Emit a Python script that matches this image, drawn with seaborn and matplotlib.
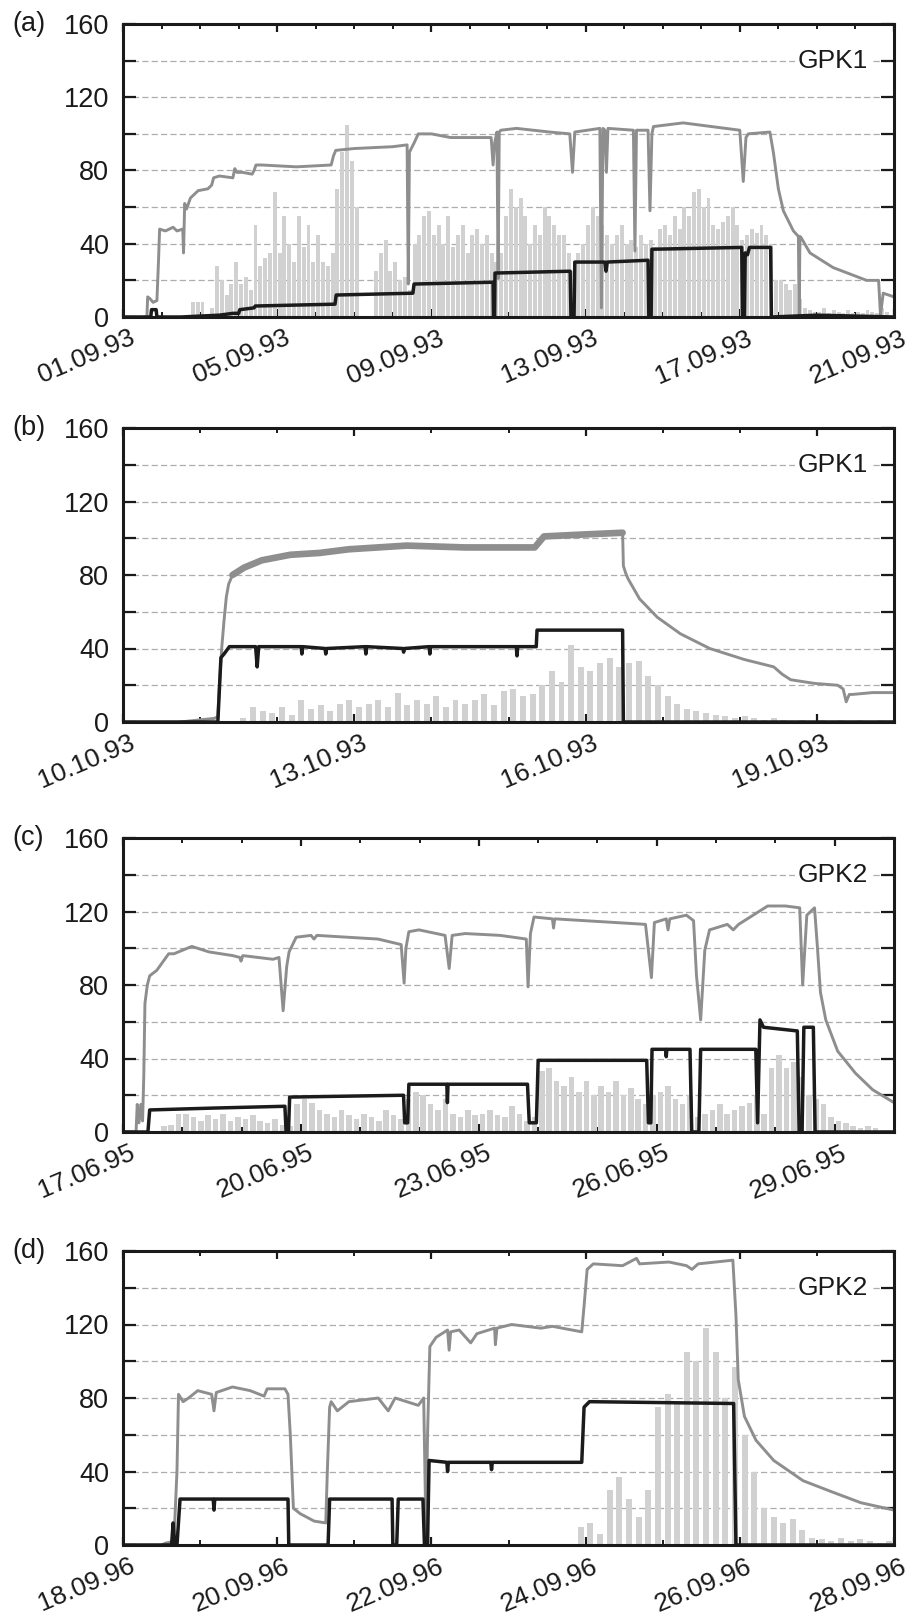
import numpy as np
import pandas as pd
import matplotlib
matplotlib.use("Agg")
import matplotlib.pyplot as plt
import matplotlib.transforms as mtransforms
from matplotlib.ticker import FixedLocator, MultipleLocator
import seaborn as sns

# ---------------- data (time in days from the left edge of each panel) ----------------
# Panel (a) GPK1, 01.09.93 - 21.09.93
a_ticks = [0, 4, 8, 12, 16, 20]
a_ticklabels = ['01.09.93', '05.09.93', '09.09.93', '13.09.93', '17.09.93', '21.09.93']
a_p_t = [0.55, 0.62, 0.64, 0.70, 0.78, 0.88, 0.92, 0.95, 1.10, 1.30, 1.40, 1.55, 1.57, 1.60, 1.65, 1.75,
         1.95, 2.20, 2.30, 2.35, 2.50, 2.85, 2.90, 2.95, 3.10, 3.35, 3.40, 3.45, 3.60, 4.50, 5.40, 5.46,
         5.52, 6.00, 7.00, 7.37, 7.40, 7.43, 7.55, 7.66, 8.00, 8.50, 9.55, 9.60, 9.64, 9.70, 9.73, 9.76,
         9.80, 10.21, 11.07, 11.59, 11.66, 11.72, 12.37, 12.41, 12.45, 12.50, 12.54, 12.58, 13.24, 13.28,
         13.32, 13.62, 13.67, 13.72, 13.76, 14.53, 16.00, 16.09, 16.16, 16.22, 16.78, 16.87, 17.00, 17.13,
         17.39, 17.52, 17.54, 17.56, 17.60, 17.82, 18.42, 19.29, 19.60, 19.65, 19.72, 20.0]
a_p_v = [0, 0, 11, 10, 8, 9, 30, 48, 47, 49, 47, 48, 35, 62, 59, 65,
         69, 70, 72, 76, 77, 76, 81, 79, 79, 78, 80, 83, 83, 82, 83, 88,
         91, 92, 93, 94, 18, 90, 95, 100, 100, 98, 98, 83, 95, 101, 21, 101,
         102, 103, 101, 100, 79, 101, 103, 5, 103, 102, 79, 103, 102, 36,
         102, 102, 58, 100, 104, 106, 102, 74, 98, 100, 101, 90, 70, 58,
         47, 44, 0, 44, 43, 35, 27, 20, 20, 1, 13, 11]
a_q_t = [0.0, 0.72, 0.74, 0.86, 0.88, 1.50, 2.50, 2.85, 3.00, 3.03, 3.40, 3.43, 5.50, 5.53, 7.52, 7.55,
         9.60, 9.61, 9.64, 9.65, 11.60, 11.62, 11.70, 11.72, 12.50, 12.53, 12.56, 13.62, 13.64, 13.70,
         13.72, 16.05, 16.07, 16.12, 16.14, 16.20, 16.25, 16.80, 16.82, 18.00, 20.00]
a_q_v = [0, 0, 4, 4, 0, 0, 1, 2, 2, 4, 5, 6, 7, 12, 13, 18,
         19, 0, 0, 24, 25, 0, 0, 30, 30, 25, 30, 31, 0, 0,
         37, 38, 0, 0, 35, 34, 38, 38, 0, 1, 0]
a_bars = [0, 0, 0, 0, 0, 0, 0, 0,
          0, 0, 0, 0, 0, 0, 8, 8,
          8, 0, 5, 28, 20, 12, 18, 30,
          18, 22, 15, 50, 28, 32, 35, 68,
          35, 55, 40, 30, 55, 38, 50, 30,
          45, 30, 28, 35, 70, 90, 105, 85,
          60, 0, 0, 0, 25, 35, 42, 25,
          30, 20, 22, 15, 40, 45, 55, 58,
          45, 50, 40, 55, 38, 45, 50, 35,
          45, 48, 40, 45, 35, 30, 35, 55,
          70, 60, 65, 55, 40, 50, 45, 60,
          55, 50, 45, 45, 35, 25, 35, 40,
          50, 60, 55, 50, 45, 40, 45, 50,
          40, 42, 38, 45, 40, 42, 38, 48,
          50, 45, 55, 48, 60, 55, 68, 70,
          60, 65, 50, 48, 52, 55, 60, 50,
          42, 45, 48, 46, 50, 45, 40, 20,
          20, 18, 15, 18, 10, 5, 4, 3,
          3, 5, 2, 4, 3, 2, 4, 2,
          3, 2, 4, 3, 2, 5, 3, 1]

# Panel (b) GPK1, 10.10.93 - 20.10.93
b_ticks = [0, 3, 6, 9]
b_ticklabels = ['10.10.93', '13.10.93', '16.10.93', '19.10.93']
b_p_t = [0.74, 1.19, 1.23, 1.25, 1.28, 1.31, 1.34, 1.37, 1.42, 1.57, 1.80, 2.17, 2.55, 2.93, 3.68, 4.44,
         5.34, 5.38, 5.46, 5.95, 6.48, 6.49, 6.52, 6.55, 6.70, 6.93, 7.23, 7.61, 8.06, 8.44, 8.55, 8.66,
         8.97, 9.27, 9.34, 9.38, 9.42, 9.46, 9.72, 10.0]
b_p_v = [0, 2, 3, 20, 40, 55, 68, 75, 80, 84, 88, 91, 92, 94, 96, 95,
         95, 97, 101, 102, 103, 85, 81, 78, 67, 57, 48, 40, 34, 30, 26, 23,
         21, 20, 18, 11, 15, 15, 16, 16]
b_q_t = [0, 1.23, 1.27, 1.31, 1.38, 1.72, 1.74, 1.76, 2.31, 2.32, 2.33, 2.62, 2.63, 2.64, 3.14, 3.15,
         3.16, 3.63, 3.64, 3.65, 3.97, 3.98, 3.99, 5.10, 5.11, 5.12, 5.36, 5.37, 6.48, 6.49, 10.0]
b_q_v = [0, 0, 35, 37, 41, 41, 30, 41, 41, 37, 41, 40, 37, 40, 41, 37,
         41, 40, 38, 40, 41, 37, 41, 41, 36, 41, 41, 50, 50, 0, 0]
b_bars = [0, 0, 0, 0, 0, 0, 0, 0,
          0, 0, 0, 0, 2, 8, 6, 5,
          8, 4, 12, 7, 9, 6, 10, 12,
          8, 10, 12, 8, 16, 9, 12, 10,
          14, 8, 12, 10, 12, 15, 9, 17,
          18, 14, 15, 20, 28, 22, 42, 30,
          28, 32, 35, 30, 32, 33, 25, 20,
          14, 10, 7, 6, 5, 4, 3, 2,
          3, 2, 1, 2, 1, 0, 1, 0,
          1, 0, 1, 0, 1, 0, 1, 0]

# Panel (c) GPK2, 17.06.95 - 30.06.95
c_ticks = [0, 3, 6, 9, 12]
c_ticklabels = ['17.06.95', '20.06.95', '23.06.95', '26.06.95', '29.06.95']
c_p_t = [0.0, 0.22, 0.24, 0.27, 0.30, 0.33, 0.35, 0.37, 0.41, 0.45, 0.57, 0.77, 0.86, 1.16, 1.45, 1.85,
         1.97, 1.99, 2.02, 2.53, 2.63, 2.70, 2.76, 2.80, 2.92, 3.17, 3.22, 3.27, 4.30, 4.69, 4.74, 4.77,
         4.82, 4.99, 5.43, 5.50, 5.55, 5.77, 6.36, 6.80, 6.83, 6.87, 6.93, 7.24, 7.26, 7.28, 8.81, 8.91,
         8.96, 9.16, 9.19, 9.22, 9.50, 9.62, 9.67, 9.74, 9.81, 9.89, 10.19, 10.29, 10.38, 10.87, 11.17,
         11.41, 11.46, 11.53, 11.66, 11.71, 11.76, 11.85, 12.05, 12.35, 12.64, 13.0]
c_p_v = [0, 0, 15, 5, 15, 6, 30, 70, 80, 85, 88, 97, 97, 101, 98, 96,
         95, 93, 96, 94, 95, 66, 90, 98, 106, 107, 105, 107, 105, 102, 81, 100,
         109, 110, 107, 89, 107, 108, 107, 105, 79, 108, 117, 116, 111, 116, 113, 84,
         114, 116, 110, 116, 118, 115, 85, 61, 99, 110, 113, 110, 113, 123, 123,
         122, 80, 118, 122, 100, 76, 61, 44, 32, 23, 16]
c_q_t = [0, 0.42, 0.45, 1.5, 2.73, 2.75, 2.79, 2.81, 4.73, 4.75, 4.80, 4.82, 5.46, 5.47, 5.48, 6.82,
         6.85, 6.97, 7.00, 8.83, 8.86, 8.90, 8.92, 9.15, 9.16, 9.17, 9.56, 9.59, 9.71, 9.74, 10.67,
         10.70, 10.74, 10.80, 11.37, 11.40, 11.45, 11.48, 11.64, 11.67, 13.0]
c_q_v = [0, 0, 12, 13, 14, 0, 0, 19, 20, 5, 5, 26, 26, 16, 26, 26,
         5, 5, 39, 39, 5, 5, 45, 45, 41, 45, 45, 0, 0, 45, 45,
         5, 61, 57, 55, 0, 0, 57, 57, 0, 0]
c_bars = [0, 0, 0, 0, 0, 3, 4, 10,
          10, 8, 6, 9, 7, 10, 6, 8,
          7, 9, 6, 5, 7, 4, 3, 15,
          18, 16, 12, 10, 8, 12, 9, 7,
          10, 8, 6, 12, 9, 7, 18, 22,
          20, 15, 12, 18, 10, 8, 12, 9,
          10, 12, 9, 8, 14, 10, 6, 8,
          33, 35, 28, 25, 30, 22, 28, 20,
          25, 22, 28, 20, 24, 18, 15, 20,
          22, 25, 18, 15, 20, 8, 10, 12,
          15, 10, 12, 14, 16, 20, 10, 35,
          42, 35, 38, 30, 20, 18, 15, 8,
          6, 5, 3, 2, 3, 2, 0, 0]

# Panel (d) GPK2, 18.09.96 - 28.09.96
d_ticks = [0, 2, 4, 6, 8, 10]
d_ticklabels = ['18.09.96', '20.09.96', '22.09.96', '24.09.96', '26.09.96', '28.09.96']
d_p_t = [0.50, 0.55, 0.66, 0.70, 0.72, 0.78, 0.85, 0.97, 1.15, 1.18, 1.21, 1.42, 1.65, 1.83, 1.87, 2.10,
         2.14, 2.17, 2.21, 2.30, 2.48, 2.63, 2.65, 2.68, 2.70, 2.78, 2.93, 3.31, 3.44, 3.53, 3.83, 3.90,
         3.93, 3.95, 3.98, 4.06, 4.21, 4.23, 4.25, 4.36, 4.51, 4.59, 4.82, 4.83, 4.85, 5.04, 5.42, 5.57,
         5.95, 5.98, 6.02, 6.10, 6.48, 6.66, 6.70, 7.08, 7.31, 7.38, 7.46, 7.91, 7.95, 7.98, 8.06, 8.21,
         8.44, 8.82, 9.19, 9.57, 10.0]
d_p_v = [0, 1, 2, 40, 82, 78, 80, 84, 82, 73, 83, 86, 84, 81, 85, 85,
         82, 60, 20, 17, 13, 12, 40, 75, 78, 73, 78, 80, 73, 80, 76, 80,
         5, 60, 108, 113, 117, 106, 116, 117, 110, 115, 118, 109, 118, 120, 118, 119,
         116, 130, 150, 153, 152, 156, 153, 154, 152, 150, 153, 155, 125, 90, 70, 57,
         46, 35, 29, 23, 19]
d_q_t = [0, 0.63, 0.65, 0.67, 0.70, 0.74, 1.17, 1.18, 1.19, 2.14, 2.15, 2.66, 2.68, 3.49, 3.50, 3.55,
         3.57, 3.89, 3.91, 3.95, 3.97, 4.20, 4.21, 4.22, 4.77, 4.78, 4.79, 5.95, 5.98, 6.05, 7.92, 7.95, 10.0]
d_q_v = [0, 0, 12, 0, 0, 25, 25, 19, 25, 25, 0, 0, 25, 25, 0, 0,
         25, 25, 0, 0, 46, 45, 40, 45, 45, 41, 45, 45, 75, 78, 77, 0, 0]
d_bars = [0] * 40 + [0, 0, 0, 0, 0, 0, 0, 10,
                     12, 6, 30, 37, 25, 15, 30, 75,
                     82, 78, 105, 100, 118, 105, 80, 97,
                     60, 40, 20, 15, 12, 14, 8, 4,
                     3, 2, 4, 2, 3, 2, 1, 2]

panel_labels = ['(a)', '(b)', '(c)', '(d)']
well_labels = ['GPK1', 'GPK1', 'GPK2', 'GPK2']
panel_days = [20, 10, 13, 10]
y_major = [0, 40, 80, 120, 160]

# ---------------- style ----------------
sns.set_style("ticks")
plt.rcParams['font.family'] = ['Liberation Sans', 'DejaVu Sans']
plt.rcParams['font.size'] = 19.5
plt.rcParams['text.color'] = '#1a1a1a'
plt.rcParams['xtick.color'] = '#1a1a1a'
plt.rcParams['ytick.color'] = '#1a1a1a'

GRAY = '#8e8e8e'
BLACK = '#1b1b1b'
BARC = '#d1d1d1'
GRID = '#adadad'
BIN = 0.125

W, H = 911, 1618
fig = plt.figure(figsize=(W / 100, H / 100), dpi=100)

tops = [24, 428, 838, 1251]
bots = [317, 722, 1132, 1545]
left_px, right_px = 123, 894
label_rot = 23
label_dx = 11
bar_shrink = [0.82, 0.62, 0.75, 0.62]

panels = [
    (a_ticks, a_ticklabels, a_p_t, a_p_v, a_q_t, a_q_v, a_bars),
    (b_ticks, b_ticklabels, b_p_t, b_p_v, b_q_t, b_q_v, b_bars),
    (c_ticks, c_ticklabels, c_p_t, c_p_v, c_q_t, c_q_v, c_bars),
    (d_ticks, d_ticklabels, d_p_t, d_p_v, d_q_t, d_q_v, d_bars),
]

for i, (ticks, ticklabels, pt, pv, qt, qv, bars) in enumerate(panels):
    ax = fig.add_axes([left_px / W, 1 - bots[i] / H, (right_px - left_px) / W, (bots[i] - tops[i]) / H])
    ndays = panel_days[i]

    # seismicity histogram (event counts per bin)
    nb = len(bars)
    hist_df = pd.DataFrame({'t': (np.arange(nb) + 0.5) * BIN, 'n': np.asarray(bars, dtype=float)})
    sns.histplot(data=hist_df, x='t', weights='n', binwidth=BIN, binrange=(0, nb * BIN), ax=ax,
                 color=BARC, alpha=1.0, linewidth=0, shrink=bar_shrink[i], zorder=1)

    # pressure (gray) line
    sns.lineplot(x=pt, y=pv, ax=ax, color=GRAY, linewidth=2.1, estimator=None, sort=False, zorder=3)
    if i == 1:
        tarr = np.array(pt)
        m = (tarr >= 1.42) & (tarr <= 6.48)
        sns.lineplot(x=tarr[m], y=np.array(pv)[m], ax=ax, color=GRAY, linewidth=4.8,
                     estimator=None, sort=False, zorder=3)
    # flow rate (black) line
    sns.lineplot(x=qt, y=qv, ax=ax, color=BLACK, linewidth=2.5, estimator=None, sort=False, zorder=4)

    ax.set_xlim(0, ndays)
    ax.set_ylim(0, 160)
    ax.set_xlabel('')
    ax.set_ylabel('')

    ax.yaxis.set_major_locator(FixedLocator(y_major))
    ax.yaxis.set_minor_locator(MultipleLocator(20))
    ax.set_yticklabels([str(v) for v in y_major])
    ax.xaxis.set_major_locator(FixedLocator(ticks))
    ax.xaxis.set_minor_locator(MultipleLocator(1))
    ax.set_xticklabels(ticklabels)

    ax.grid(axis='y', which='both', linestyle=(0, (5, 2.5)), color=GRID, linewidth=0.9)
    ax.set_axisbelow(True)

    ax.tick_params(axis='y', which='both', direction='in', left=True, right=True,
                   length=9.5, width=1.6, pad=10, labelsize=19.5)
    ax.tick_params(axis='x', which='major', direction='in', top=True, bottom=True,
                   length=5.5, width=1.6, pad=14.4, labelsize=19)
    ax.tick_params(axis='x', which='minor', direction='in', top=True, bottom=True,
                   length=3.8, width=1.4)
    shift = mtransforms.ScaledTranslation(label_dx / 100, 0, fig.dpi_scale_trans)
    for lbl in ax.get_xticklabels():
        lbl.set_rotation(label_rot)
        lbl.set_ha('right')
        lbl.set_va('center')
        lbl.set_rotation_mode('anchor')
        lbl.set_transform(lbl.get_transform() + shift)

    for sp in ax.spines.values():
        sp.set_visible(True)
        sp.set_linewidth(2.2)
        sp.set_color('#1a1a1a')
        sp.set_zorder(6)

    ax.text(-0.143, 1.0, panel_labels[i], transform=ax.transAxes, ha='left', va='center',
            fontsize=19.5)
    ax.text(0.966, 140, well_labels[i], transform=ax.get_yaxis_transform(), ha='right', va='center',
            fontsize=19, zorder=5,
            bbox=dict(facecolor='white', edgecolor='none', pad=2))

fig.savefig('out.png', dpi=100)
